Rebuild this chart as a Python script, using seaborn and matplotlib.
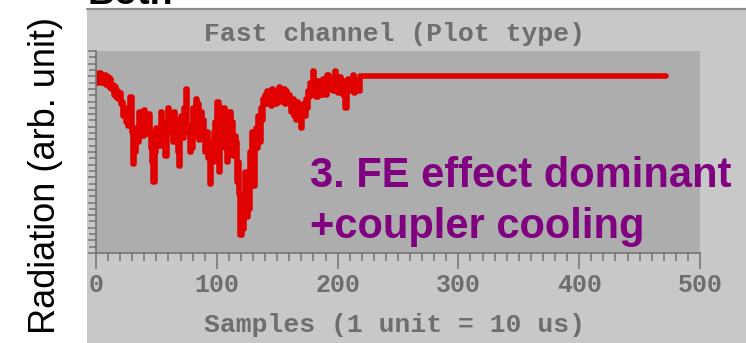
import matplotlib
matplotlib.use("Agg")
import numpy as np
import pandas as pd
import seaborn as sns
import matplotlib.pyplot as plt
from matplotlib.patches import Rectangle
from matplotlib.lines import Line2D
from matplotlib.ticker import MultipleLocator, FixedLocator, NullFormatter

# ---------------- data ----------------
noisy_values = [
    89, 84, 88, 85, 89, 84, 87, 85, 88, 83,
    87, 82, 86, 81,
    83, 78, 82, 77, 80, 76, 79, 74,
    75, 68, 72, 65, 70, 63,
    68, 77, 60, 44, 55, 50,
    62, 55,
    70, 60, 68, 58, 71, 62, 66, 59, 69,
    60, 52, 45, 35, 50,
    62, 55, 60, 53,
    70, 58, 65, 55, 48, 62, 72, 60, 66,
    64, 55,
    70, 58, 66, 50, 43, 60,
    68, 57, 72, 60, 81, 62,
    63, 50, 60, 52,
    72, 58, 76, 62, 74, 56, 70, 60, 66,
    58, 50, 60, 47, 55, 34, 52, 45, 60,
    65, 55, 75, 40, 62, 58, 68,
    72, 52, 64, 45, 60,
    70, 55, 65, 48, 58,
    55, 35, 45, 29,
    9, 20, 12, 25,
    40, 18, 35, 22,
    50, 38, 60, 33, 55,
    62, 52, 68, 55,
    72, 66, 76,
    78, 74, 80, 75, 79, 73, 81, 76, 78, 74, 80, 76, 82, 75, 79, 77, 81, 74, 80, 76, 78,
    74, 70, 76, 68, 72, 66, 75, 69, 73, 62, 71, 74, 68, 76, 72,
    80, 77, 84, 78, 90, 80, 83, 77, 85, 79, 82, 78, 86, 80, 83, 78, 88, 81, 84,
    82, 86, 80, 90, 83, 85, 79, 87, 82, 84, 78, 85, 72, 83, 86, 80, 84, 82, 88, 79, 85, 81, 83, 80,
]
flat_level = 87.5
flat_start = len(noisy_values)
flat_end = 472

x_ticks = [0, 100, 200, 300, 400, 500]
x_tick_labels = ["0", "100", "200", "300", "400", "500"]
title_text = "Fast channel (Plot type)"
xlabel_text = "Samples (1 unit = 10 us)"
ylabel_text = "Radiation (arb. unit)"
note_lines = ["3. FE effect dominant", "+coupler cooling"]
header_text = "Both"

samples = list(range(len(noisy_values))) + [flat_start, flat_end]
radiation = list(noisy_values) + [flat_level, flat_level]
df = pd.DataFrame({"sample": samples, "radiation": radiation})

# ---------------- style ----------------
sns.set_style("white")
plt.rcParams["font.family"] = ["Liberation Sans", "DejaVu Sans"]

W, H = 746, 343
fig = plt.figure(figsize=(W / 100, H / 100), dpi=100)
fig.patch.set_facecolor("white")

def fx(px):
    return px / W

def fy(py):
    return 1 - py / H

PANEL = "#c8c8c8"
PLOT_BG = "#adadad"
GRAY_TXT = "#6e6e6e"
AX_COL = "#737373"

fig.patches.append(Rectangle((fx(87), 0), 1 - fx(87), fy(8), transform=fig.transFigure,
                             facecolor=PANEL, edgecolor="none", zorder=-10))
fig.lines.append(Line2D([fx(87), 1], [fy(8.5), fy(8.5)], transform=fig.transFigure,
                        color="#8c8c8c", lw=1.6, zorder=-9))

ax = fig.add_axes([fx(96), fy(253), fx(700) - fx(96), fy(51) - fy(253)])
ax.set_zorder(1)
ax.set_facecolor(PLOT_BG)

sns.lineplot(data=df, x="sample", y="radiation", ax=ax, color="#e00000",
             linewidth=4.0, estimator=None, drawstyle="steps-mid")

ax.set_xlim(0, 500)
ax.set_ylim(0, 100)
ax.set_xlabel("")
ax.set_ylabel("")

for s in ["top", "right"]:
    ax.spines[s].set_visible(False)
for s in ["left", "bottom"]:
    ax.spines[s].set_color(AX_COL)
    ax.spines[s].set_linewidth(1.2)

ax.xaxis.set_major_locator(FixedLocator(x_ticks))
ax.set_xticklabels(x_tick_labels)
ax.xaxis.set_minor_locator(MultipleLocator(10))
ax.yaxis.set_major_locator(MultipleLocator(6.25))
ax.yaxis.set_minor_locator(MultipleLocator(3.125))
ax.yaxis.set_major_formatter(NullFormatter())

ax.tick_params(which="both", bottom=True, left=True, top=False, right=False)
ax.tick_params(axis="x", which="major", direction="out", length=11.5, width=1.1,
               color=AX_COL, pad=3, labelsize=18, labelcolor=GRAY_TXT)
ax.tick_params(axis="x", which="minor", direction="out", length=6, width=1.1, color=AX_COL)
ax.tick_params(axis="y", which="major", direction="out", length=6, width=1.1, color=AX_COL)
ax.tick_params(axis="y", which="minor", direction="out", length=5, width=1.1, color=AX_COL)
mono = ["Liberation Mono", "DejaVu Sans Mono"]
for lab in ax.get_xticklabels():
    lab.set_family(mono)
    lab.set_weight("bold")

fig.text(fx(394), fy(41), title_text, ha="center", va="baseline", fontsize=19,
         family=mono, weight="bold", color=GRAY_TXT)
fig.text(fx(394), fy(332), xlabel_text, ha="center", va="baseline", fontsize=19,
         family=mono, weight="bold", color=GRAY_TXT)

fig.text(fx(46), fy(176), ylabel_text, ha="center", va="center", rotation=90,
         fontsize=26, color="black")
fig.text(fx(87), fy(4), header_text, ha="left", va="baseline", fontsize=27,
         weight="bold", color="black")

fig.text(fx(310), fy(187), note_lines[0], ha="left", va="baseline", fontsize=30,
         weight="bold", color="#800080", zorder=5)
fig.text(fx(310), fy(238), note_lines[1], ha="left", va="baseline", fontsize=30,
         weight="bold", color="#800080", zorder=5)

fig.savefig("out.png", dpi=100, facecolor="white")
